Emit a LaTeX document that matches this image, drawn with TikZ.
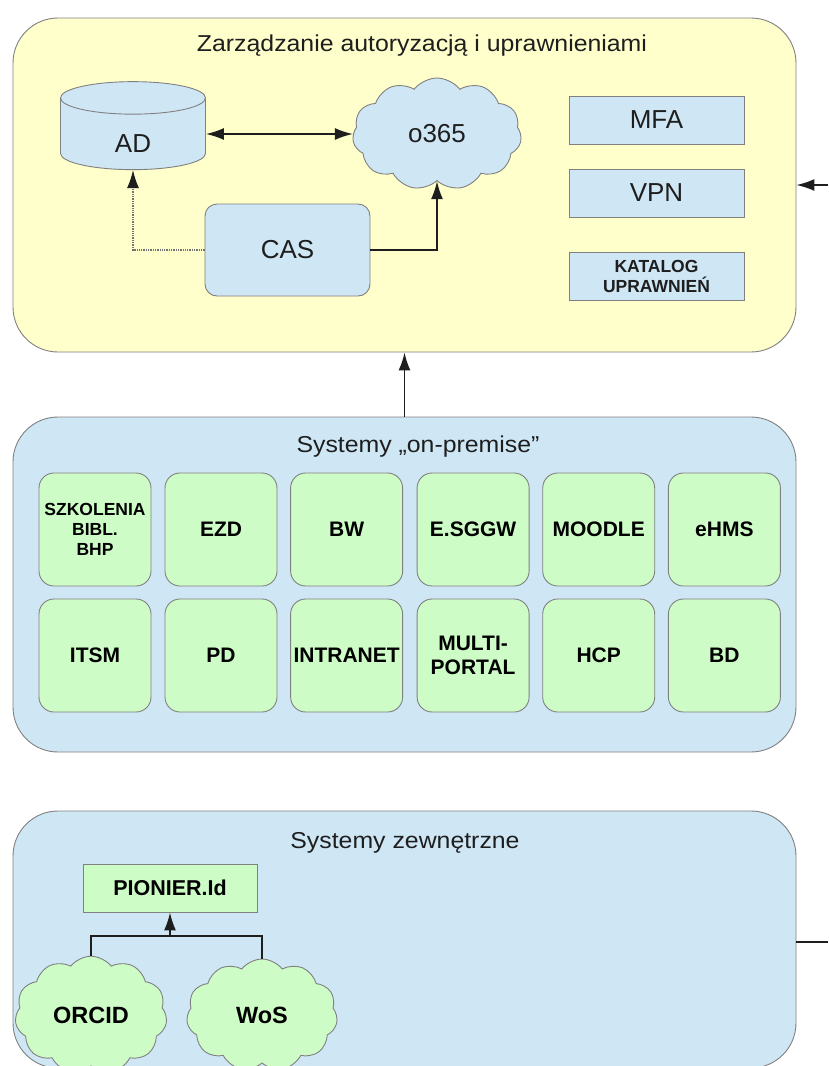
\documentclass[tikz,border=0pt]{standalone}
\usepackage{fontspec}
\setmainfont{Liberation Sans}
\newfontfamily\titlefont[FakeStretch=1.08]{Liberation Sans}
\usetikzlibrary{shapes.geometric,shapes.symbols,arrows.meta,positioning}

\definecolor{authyellow}{RGB}{255,255,204}
\definecolor{sysblue}{RGB}{207,231,245}
\definecolor{sysgreen}{RGB}{206,252,198}
\definecolor{edgegray}{RGB}{128,128,128}
\definecolor{inkgray}{RGB}{30,30,30}

\tikzset{
  area/.style={draw=edgegray,line width=0.9pt,rounded corners=45pt,inner sep=0pt},
  areatitle/.style={anchor=base,text=inkgray,font=\titlefont\fontsize{23}{27}\selectfont},
  bluebox/.style={draw=edgegray,fill=sysblue,line width=0.9pt,inner sep=0pt,
    align=center,text=inkgray,font=\fontsize{26}{30}\selectfont},
  sysbox/.style={draw=edgegray,fill=sysgreen,line width=0.9pt,rounded corners=15pt,
    minimum width=112pt,minimum height=113pt,inner sep=0pt,align=center,
    text=black,font=\bfseries\fontsize{21}{24}\selectfont},
  puff/.style={cloud,cloud puffs=11,cloud puff arc=105,draw=edgegray,line width=0.9pt,
    inner sep=0pt},
  link/.style={line width=1.6pt,draw=inkgray},
}

\begin{document}
\begin{tikzpicture}[x=1pt,y=-1pt,>={Latex[length=18pt,width=12pt]}]
  \clip (0,0) rectangle (828,1066);
  \fill[white] (0,0) rectangle (828,1066);
  % three areas
  \node[area,fill=authyellow,minimum width=783pt,minimum height=334pt] (AUTH) at (404.5,185) {};
  \node[area,fill=sysblue,minimum width=783pt,minimum height=335pt] (ONPREM) at (404.5,584.5) {};
  \node[area,fill=sysblue,minimum width=783pt,minimum height=257pt] (EXT) at (404.5,939.5) {};
  \node[areatitle] (AUTHT) at (422,51) {Zarządzanie autoryzacją i uprawnieniami};
  \node[areatitle] (ONPREMT) at (418,452) {Systemy „on-premise”};
  \node[areatitle] (EXTT) at (405,848) {Systemy zewnętrzne};
  % authorization area
  \node[bluebox,cylinder,shape border rotate=90,aspect=0.9,text height=36pt,text depth=0pt,
    minimum width=145pt,minimum height=88pt] (AD) at (133,134) {AD};
  \node[bluebox,puff,minimum width=169pt,minimum height=112pt] (O365) at (437,134) {o365};
  \node[bluebox,rounded corners=12pt,minimum width=165pt,minimum height=92pt] (CAS) at (287.5,250) {CAS};
  \node[bluebox,minimum width=175pt,minimum height=48pt] (MFA) at (656.5,120) {MFA};
  \node[bluebox,minimum width=175pt,minimum height=48pt] (VPN) at (656.5,193) {VPN};
  \node[bluebox,minimum width=175pt,minimum height=48pt,
    font=\bfseries\fontsize{17.5}{20}\selectfont] (KAT) at (656.5,276) {KATALOG\\UPRAWNIEŃ};
  \draw[link,<->] (AD.east) -- (O365.west);
  \draw[line width=1.3pt,draw=black!55,densely dotted,
    -{Latex[length=18pt,width=12pt,color=inkgray]}] (CAS.west) -| (AD.south);
  \draw[link,->] (CAS.east) -| (O365.south);
  % incoming arrow on the right
  \coordinate (INR) at (828,185);
  \draw[link,->] (INR) -- (INR -| AUTH.east);
  \draw[link,->] (ONPREM.north) -- (AUTH.south);
  % on-premise systems, first row
  \node[sysbox,font=\bfseries\fontsize{17.5}{20}\selectfont] (SZK) at (95,529.5) {SZKOLENIA\\BIBL.\\BHP};
  \node[sysbox] (EZD) at (221,529.5) {EZD};
  \node[sysbox] (BW) at (346.6,529.5) {BW};
  \node[sysbox] (ESGGW) at (473.1,529.5) {E.SGGW};
  \node[sysbox] (MOODLE) at (598.7,529.5) {MOODLE};
  \node[sysbox] (EHMS) at (724.4,529.5) {eHMS};
  % second row
  \node[sysbox] (ITSM) at (95,655.5) {ITSM};
  \node[sysbox] (PD) at (221,655.5) {PD};
  \node[sysbox] (INTRANET) at (346.6,655.5) {INTRANET};
  \node[sysbox] (MULTI) at (473.1,655.5) {MULTI-\\PORTAL};
  \node[sysbox] (HCP) at (598.7,655.5) {HCP};
  \node[sysbox] (BD) at (724.4,655.5) {BD};
  % external systems
  \node[sysbox,rounded corners=0pt,minimum width=174pt,minimum height=48pt,
    font=\bfseries\fontsize{21.5}{25}\selectfont] (PIONIER) at (170,888) {PIONIER.Id};
  \node[puff,fill=sysgreen,minimum width=152pt,minimum height=112pt,
    font=\bfseries\fontsize{23.5}{27}\selectfont] (ORCID) at (91,1015) {ORCID};
  \node[puff,fill=sysgreen,minimum width=151pt,minimum height=112pt,
    font=\bfseries\fontsize{23.5}{27}\selectfont] (WOS) at (262,1015) {WoS};
  \coordinate (JOIN) at (170,936);
  \draw[link] (ORCID.north) |- (JOIN) -| (WOS.north);
  \draw[link,->] (JOIN) -- (PIONIER.south);
  % outgoing line on the right
  \coordinate (OUTR) at (828,942);
  \draw[link] (OUTR) -- (OUTR -| EXT.east);
\end{tikzpicture}
\end{document}
